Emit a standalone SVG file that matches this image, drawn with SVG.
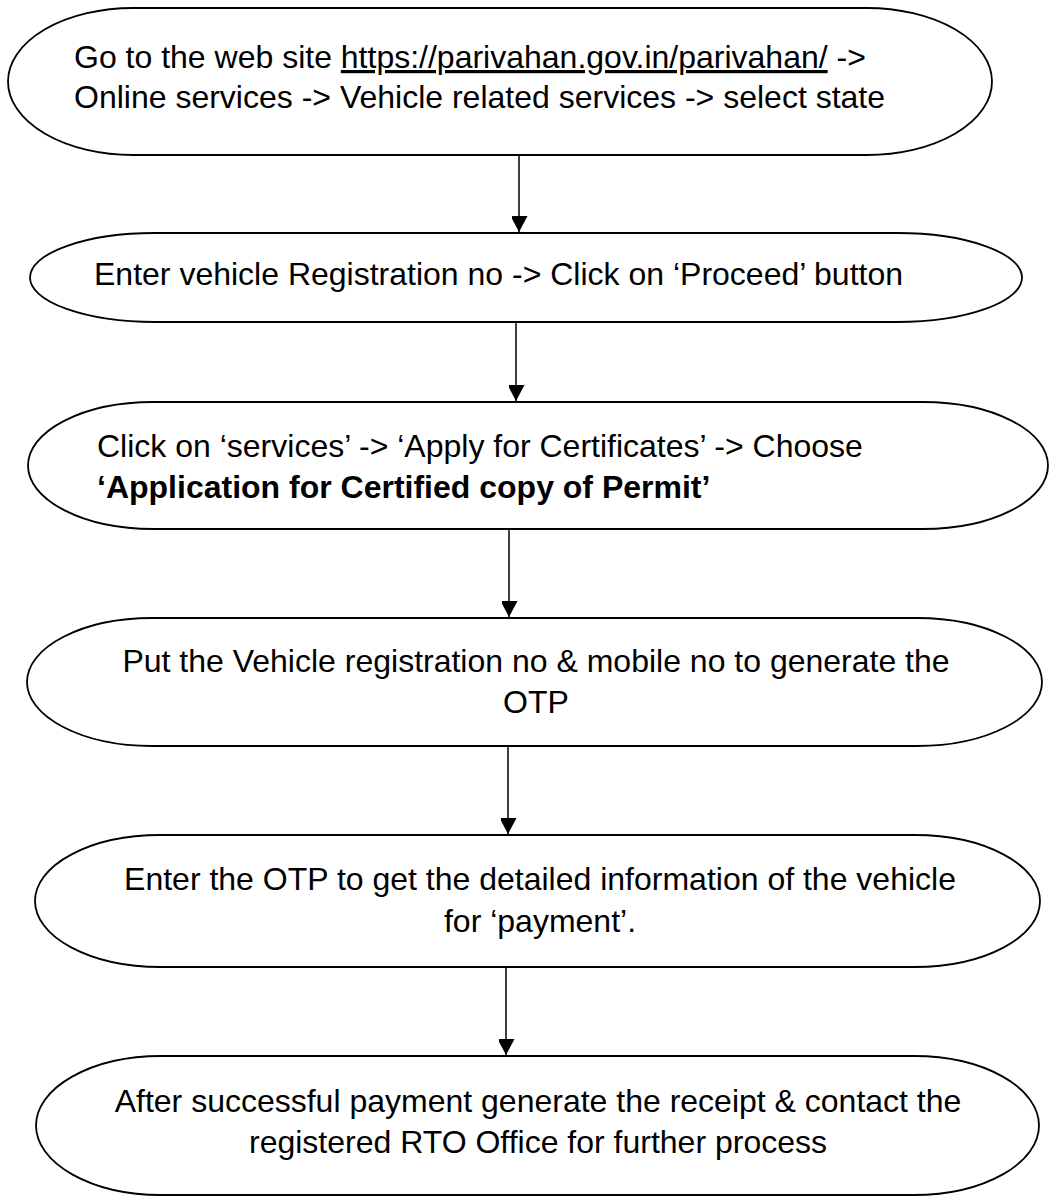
<svg xmlns="http://www.w3.org/2000/svg" width="1050" height="1197" viewBox="0 0 1050 1197">
<style>
.shape{fill:#fff;stroke:#000;stroke-width:1.8}
.t{font-family:"Liberation Sans",Arial,sans-serif;font-size:32px;fill:#000}
.c{text-anchor:middle}
.b{font-weight:bold}
.conn{stroke:#000;stroke-width:1.5;fill:none}
</style>
<defs>
<marker id="ah" markerUnits="userSpaceOnUse" markerWidth="18" markerHeight="16" refX="16" refY="8.5" orient="auto">
<path d="M0,0 L16,8.5 L0,17 Z" fill="#000"/>
</marker>
</defs>
<rect width="1050" height="1197" fill="#fff"/>
<g id="connectors">
<line class="conn" x1="519" y1="156" x2="519" y2="232" marker-end="url(#ah)"/>
<line class="conn" x1="516" y1="323" x2="516" y2="401" marker-end="url(#ah)"/>
<line class="conn" x1="509" y1="530" x2="509" y2="617" marker-end="url(#ah)"/>
<line class="conn" x1="508" y1="747" x2="508" y2="834" marker-end="url(#ah)"/>
<line class="conn" x1="506" y1="968" x2="506" y2="1055" marker-end="url(#ah)"/>
</g>
<g id="node1">
<path class="shape" d="M133,8 H867 A125,73.5 0 0 1 992,81.5 A125,73.5 0 0 1 867,155 H133 A125,73.5 0 0 1 8,81.5 A125,73.5 0 0 1 133,8 Z"/>
<text class="t" x="74" y="68">Go to the web site <tspan text-decoration="underline">https://parivahan.gov.in/parivahan/</tspan> -&gt;</text>
<text class="t" x="74" y="108">Online services -&gt; Vehicle related services -&gt; select state</text>
</g>
<g id="node2">
<path class="shape" d="M155,233 H897 A125,44.5 0 0 1 1022,277.5 A125,44.5 0 0 1 897,322 H155 A125,44.5 0 0 1 30,277.5 A125,44.5 0 0 1 155,233 Z"/>
<text class="t" x="94" y="285">Enter vehicle Registration no -&gt; Click on ‘Proceed’ button</text>
</g>
<g id="node3">
<path class="shape" d="M153,402 H923 A125,63.5 0 0 1 1048,465.5 A125,63.5 0 0 1 923,529 H153 A125,63.5 0 0 1 28,465.5 A125,63.5 0 0 1 153,402 Z"/>
<text class="t" x="97" y="457">Click on ‘services’ -&gt; ‘Apply for Certificates’ -&gt; Choose</text>
<text class="t b" x="97" y="498">‘Application for Certified copy of Permit’</text>
</g>
<g id="node4">
<path class="shape" d="M152,618 H917 A125,64 0 0 1 1042,682 A125,64 0 0 1 917,746 H152 A125,64 0 0 1 27,682 A125,64 0 0 1 152,618 Z"/>
<text class="t c" x="536" y="672">Put the Vehicle registration no &amp; mobile no to generate the</text>
<text class="t c" x="536" y="713">OTP</text>
</g>
<g id="node5">
<path class="shape" d="M160,835 H915 A125,66 0 0 1 1040,901 A125,66 0 0 1 915,967 H160 A125,66 0 0 1 35,901 A125,66 0 0 1 160,835 Z"/>
<text class="t c" x="540" y="890">Enter the OTP to get the detailed information of the vehicle</text>
<text class="t c" x="540" y="932">for ‘payment’.</text>
</g>
<g id="node6">
<path class="shape" d="M161,1056 H914 A125,69.5 0 0 1 1039,1125.5 A125,69.5 0 0 1 914,1195 H161 A125,69.5 0 0 1 36,1125.5 A125,69.5 0 0 1 161,1056 Z"/>
<text class="t c" x="538" y="1112">After successful payment generate the receipt &amp; contact the</text>
<text class="t c" x="538" y="1153">registered RTO Office for further process</text>
</g>
</svg>
